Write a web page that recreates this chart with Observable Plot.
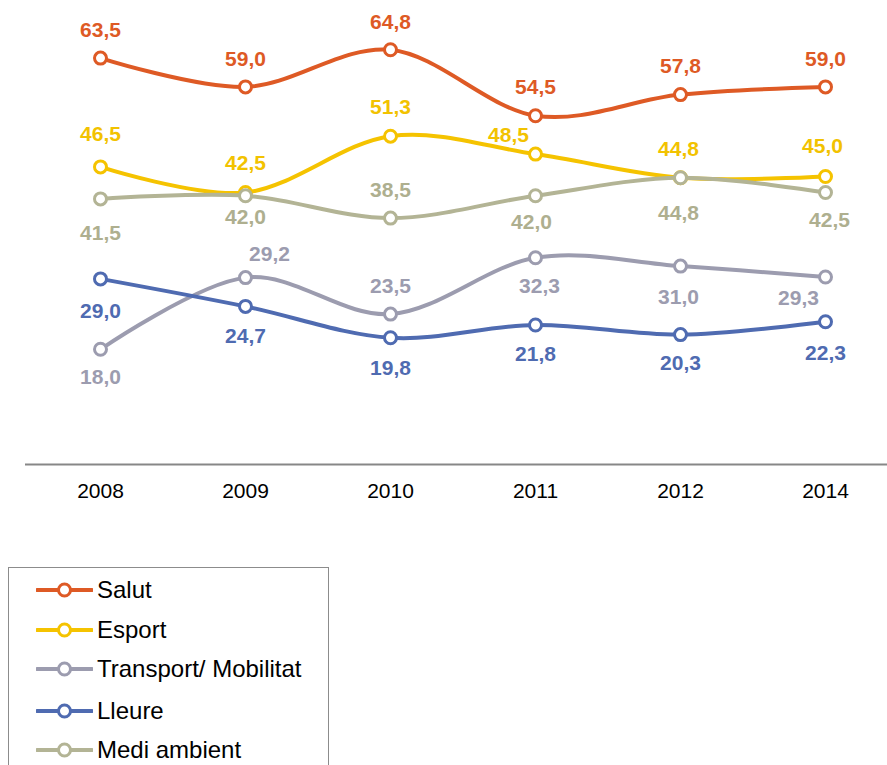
<!DOCTYPE html>
<html>
<head>
<meta charset="utf-8">
<script src="https://cdn.jsdelivr.net/npm/d3@7"></script>
<script src="https://cdn.jsdelivr.net/npm/@observablehq/plot@0.6"></script>
<style>
  body { margin: 0; background: #fff; font-family: "Liberation Sans", Arial, sans-serif; }
  #wrap { position: relative; width: 887px; height: 765px; overflow: hidden; }
  #legend { position: absolute; left: 8px; top: 567px; width: 321px; height: 240px; border: 1px solid #8c8c8c; box-sizing: border-box; }
  .item { position: absolute; left: 27px; height: 30px; display: flex; align-items: center; font-size: 24px; color: #000; white-space: nowrap; }
  .item svg { margin-right: 4px; }
</style>
</head>
<body>
<div id="wrap"><div id="chart"></div><div id="legend"></div></div>
<script>
const years = ["2008", "2009", "2010", "2011", "2012", "2014"];
const seriesNames = ["Salut", "Esport", "Transport/ Mobilitat", "Lleure", "Medi ambient"];
const salut = [63.5, 59.0, 64.8, 54.5, 57.8, 59.0];
const esport = [46.5, 42.5, 51.3, 48.5, 44.8, 45.0];
const transport = [18.0, 29.2, 23.5, 32.3, 31.0, 29.3];
const lleure = [29.0, 24.7, 19.8, 21.8, 20.3, 22.3];
const medi = [41.5, 42.0, 38.5, 42.0, 44.8, 42.5];

const values = [salut, esport, transport, lleure, medi];
const colors = ["#DE5A25", "#F5C300", "#9C9CAF", "#4F6BB1", "#B3B495"];
const labelColors = ["#DE5A25", "#F2C200", "#9C9CAF", "#4F6BB1", "#AEAF8F"];

// label placement offsets [dx, dy] per series per year (annotation layout)
const labelOffsets = [
  [[0,-28],[0,-28],[0,-28],[0,-28],[0,-28],[0,-28]],
  [[0,-33],[0,-29],[0,-29],[-27,-19],[-2,-29],[-3,-30]],
  [[0,28],[24,-23],[0,-28],[4,28],[-2,31],[-27,21]],
  [[0,32],[0,30],[0,30],[0,29],[0,29],[0,31]],
  [[0,34],[0,22],[0,-28],[-4,27],[-2,35],[4,28]]
];

const fmt = v => v.toFixed(1).replace(".", ",");

const rows = [];
seriesNames.forEach((s, i) => years.forEach((y, j) => rows.push({series: s, si: i, yi: j, year: y, value: values[i][j]})));

const marks = [
  Plot.ruleY([0], {stroke: "#878787", strokeWidth: 2}),
  Plot.axisX({tickSize: 0, tickPadding: 19, fontSize: 21, fill: "#000", label: null})
];
seriesNames.forEach((s, i) => {
  const d = rows.filter(r => r.si === i);
  marks.push(Plot.line(d, {x: "year", y: "value", stroke: colors[i], strokeWidth: 4, curve: "cardinal"}));
  marks.push(Plot.dot(d, {x: "year", y: "value", r: 6, fill: "white", stroke: colors[i], strokeWidth: 3}));
});
seriesNames.forEach((s, i) => {
  rows.filter(r => r.si === i).forEach(r => {
    const [dx, dy] = labelOffsets[i][r.yi];
    marks.push(Plot.text([r], {x: "year", y: "value", text: d => fmt(d.value), dx, dy,
      fill: labelColors[i], fontSize: 21, fontWeight: "bold", lineAnchor: "middle", textAnchor: "middle"}));
  });
});

const chart = Plot.plot({
  width: 887,
  height: 520,
  marginLeft: 25,
  marginRight: 0,
  marginTop: 16,
  marginBottom: 56,
  style: {fontFamily: "'Liberation Sans', Arial, sans-serif", background: "white"},
  x: {type: "point", domain: years, range: [98, 827], padding: 0, axis: null, label: null},
  y: {domain: [0, 70], axis: null},
  marks
});
document.getElementById("chart").appendChild(chart);

const legend = document.getElementById("legend");
const rowTops = [7, 47, 86, 128, 167];
seriesNames.forEach((s, i) => {
  const div = document.createElement("div");
  div.className = "item";
  div.style.top = rowTops[i] + "px";
  div.innerHTML = `<svg width="57" height="16"><line x1="1" y1="8" x2="56" y2="8" stroke="${colors[i]}" stroke-width="4" stroke-linecap="round"/><circle cx="28.5" cy="8" r="6" fill="white" stroke="${colors[i]}" stroke-width="3"/></svg><span>${s}</span>`;
  legend.appendChild(div);
});
</script>
</body>
</html>
